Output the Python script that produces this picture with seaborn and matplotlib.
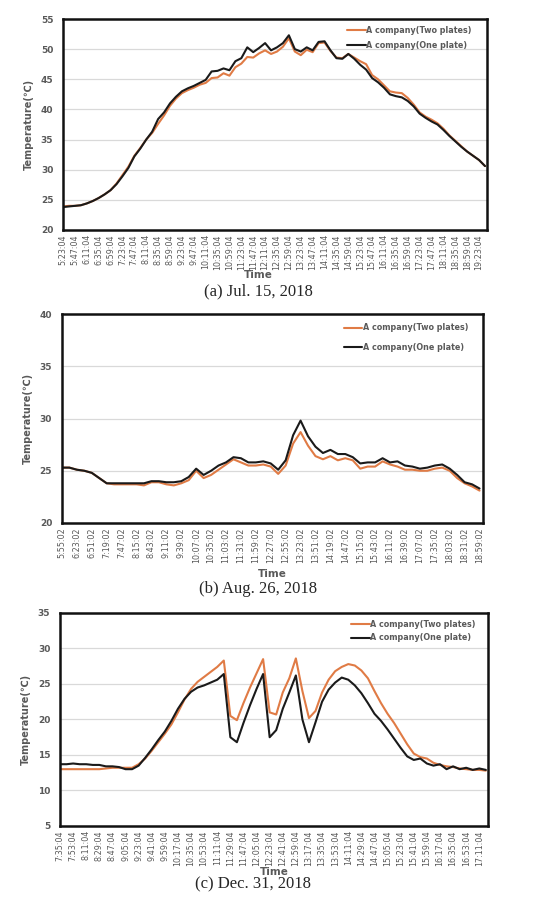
import numpy as np
import pandas as pd
import matplotlib
matplotlib.use("Agg")
import matplotlib.pyplot as plt
import seaborn as sns

# ---- data ----
# (a) Jul. 15, 2018 : one sample every 12 min from 5:23:04
jul_two = [23.9, 24.0, 24.0, 24.1, 24.4, 24.8, 25.3, 25.9, 26.6, 27.7, 29.1, 30.5,
           32.3, 33.6, 35.0, 36.1, 37.6, 39.0, 40.6, 41.8, 42.7, 43.2, 43.6, 44.1,
           44.4, 45.2, 45.3, 46.0, 45.6, 47.0, 47.6, 48.7, 48.6, 49.3, 49.8, 49.2,
           49.6, 50.4, 51.8, 49.6, 49.0, 49.9, 49.5, 51.0, 51.1, 49.7, 48.6, 48.5,
           49.2, 48.6, 48.0, 47.5, 45.7, 45.0, 44.0, 43.0, 42.8, 42.7, 41.9, 40.8,
           39.5, 38.8, 38.3, 37.7, 36.8, 35.7, 34.8, 33.9, 33.0, 32.3, 31.6, 30.6]
jul_one = [23.8, 23.9, 24.0, 24.1, 24.4, 24.8, 25.3, 25.9, 26.6, 27.6, 28.9, 30.3,
           32.2, 33.5, 35.0, 36.3, 38.4, 39.5, 41.0, 42.1, 43.0, 43.5, 43.9, 44.4,
           44.9, 46.3, 46.4, 46.8, 46.5, 48.0, 48.5, 50.3, 49.5, 50.2, 51.0, 49.8,
           50.3, 51.0, 52.3, 50.0, 49.6, 50.3, 49.8, 51.2, 51.3, 49.8, 48.5, 48.4,
           49.2, 48.4, 47.4, 46.6, 45.2, 44.5, 43.6, 42.5, 42.2, 42.0, 41.4, 40.5,
           39.3, 38.6, 38.0, 37.5, 36.6, 35.6, 34.7, 33.8, 33.0, 32.3, 31.6, 30.6]

# (b) Aug. 26, 2018 : one sample every 14 min from 5:55:02
aug_two = [25.3, 25.3, 25.1, 25.0, 24.8, 24.3, 23.8, 23.7, 23.7, 23.7, 23.7, 23.6,
           23.9, 23.9, 23.7, 23.6, 23.8, 24.1, 25.0, 24.3, 24.6, 25.1, 25.6, 26.1,
           25.8, 25.5, 25.5, 25.6, 25.4, 24.7, 25.5, 27.6, 28.7, 27.4, 26.4, 26.1,
           26.4, 26.0, 26.2, 26.0, 25.2, 25.4, 25.4, 25.9, 25.6, 25.4, 25.1, 25.1,
           25.0, 25.0, 25.2, 25.3, 25.0, 24.3, 23.8, 23.5, 23.1]
aug_one = [25.3, 25.3, 25.1, 25.0, 24.8, 24.3, 23.8, 23.8, 23.8, 23.8, 23.8, 23.8,
           24.0, 24.0, 23.9, 23.9, 24.0, 24.4, 25.2, 24.6, 25.0, 25.5, 25.8, 26.3,
           26.2, 25.8, 25.8, 25.9, 25.7, 25.1, 26.0, 28.4, 29.8, 28.3, 27.3, 26.7,
           27.0, 26.6, 26.6, 26.3, 25.7, 25.8, 25.8, 26.2, 25.8, 25.9, 25.5, 25.4,
           25.2, 25.3, 25.5, 25.6, 25.2, 24.6, 23.9, 23.7, 23.3]

# (c) Dec. 31, 2018 : one sample every 9 min from 7:35:04
dec_two = [13.0, 13.0, 13.0, 13.0, 13.0, 13.0, 13.0, 13.1, 13.2, 13.2, 13.2, 13.2,
           13.7, 14.5, 15.6, 16.8, 18.0, 19.3, 21.0, 22.8, 24.3, 25.3, 26.0, 26.7,
           27.4, 28.3, 20.5, 19.9, 22.3, 24.5, 26.5, 28.5, 21.0, 20.7, 23.8, 25.8,
           28.6, 24.0, 20.2, 21.2, 23.8, 25.6, 26.8, 27.4, 27.8, 27.6, 26.9, 25.8,
           24.0, 22.3, 20.8, 19.5, 18.0, 16.5, 15.2, 14.7, 14.5, 13.9, 13.6, 13.4,
           13.3, 13.1, 13.0, 12.9, 12.9, 12.8]
dec_one = [13.7, 13.7, 13.8, 13.7, 13.7, 13.6, 13.6, 13.4, 13.4, 13.3, 13.0, 13.0,
           13.5, 14.6, 15.8, 17.1, 18.3, 19.8, 21.5, 22.9, 23.9, 24.5, 24.8, 25.2,
           25.6, 26.4, 17.5, 16.8, 19.5, 22.0, 24.3, 26.4, 17.5, 18.5, 21.5, 23.8,
           26.2, 20.0, 16.8, 19.6, 22.5, 24.2, 25.2, 25.9, 25.6, 24.8, 23.7, 22.3,
           20.8, 19.8, 18.6, 17.3, 16.0, 14.8, 14.3, 14.5, 13.8, 13.5, 13.7, 13.0,
           13.4, 13.0, 13.2, 12.9, 13.1, 12.9]

series_names = ["A company(Two plates)", "A company(One plate)"]
captions = ["(a) Jul. 15, 2018", "(b) Aug. 26, 2018", "(c) Dec. 31, 2018"]


def time_labels(h, m, s, step, n):
    out = []
    for i in range(n):
        t = h * 60 + m + i * step
        out.append(f"{t // 60}:{t % 60:02d}:{s:02d}")
    return out


panels = [
    dict(two=jul_two, one=jul_one, dt=12, lab=time_labels(5, 23, 4, 24, 36), tstep=24,
         xmax=856, ylim=(20, 55), rect=[0.118, 0.7459, 0.794, 0.2331],
         leg=(0.67, 0.967), lsp=0.75, time_x=258, time_y=275, cap_x=258, cap_y=291),
    dict(two=aug_two, one=aug_one, dt=14, lab=time_labels(5, 55, 2, 28, 29), tstep=28,
         xmax=790, ylim=(20, 40), rect=[0.116, 0.4221, 0.788, 0.2309],
         leg=(0.67, 0.955), lsp=1.35, time_x=272, time_y=574, cap_x=258, cap_y=589),
    dict(two=dec_two, one=dec_one, dt=9, lab=time_labels(7, 35, 4, 18, 33), tstep=18,
         xmax=588, ylim=(5, 35), rect=[0.1124, 0.0873, 0.8015, 0.2354],
         leg=(0.68, 0.967), lsp=0.55, time_x=274, time_y=872, cap_x=253, cap_y=884),
]

sns.set_style("white")
plt.rcParams['font.family'] = ['DejaVu Sans']

W, H = 534, 905
fig = plt.figure(figsize=(W / 100, H / 100), dpi=100)
gray = "#595959"
palette = {series_names[0]: "#E07B45", series_names[1]: "#1a1a1a"}

for p, cap in zip(panels, captions):
    ax = fig.add_axes(p["rect"])
    n = len(p["two"])
    minutes = np.arange(n) * p["dt"]
    df = pd.DataFrame({
        "min": np.concatenate([minutes, minutes]),
        "temp": p["two"] + p["one"],
        "series": [series_names[0]] * n + [series_names[1]] * n,
    })
    sns.lineplot(data=df, x="min", y="temp", hue="series", palette=palette,
                 hue_order=series_names, linewidth=1.5, ax=ax)

    ax.set_xlim(0, p["xmax"])
    ax.set_ylim(*p["ylim"])
    ax.set_yticks(np.arange(p["ylim"][0], p["ylim"][1] + 1, 5))
    ax.yaxis.grid(True, color="#d9d9d9", linewidth=0.9)
    ax.set_axisbelow(True)
    ax.set_xticks(np.arange(len(p["lab"])) * p["tstep"])
    ax.set_xticklabels(p["lab"], rotation=90, fontsize=5.8, color=gray,
                       family=["Liberation Sans Narrow", "DejaVu Sans"])
    ax.tick_params(axis="y", labelsize=6.5, labelcolor=gray, length=0, pad=7)
    ax.tick_params(axis="x", length=0, pad=3)
    for lab in ax.get_yticklabels():
        lab.set_fontweight("bold")
    for sp in ax.spines.values():
        sp.set_color("#111111")
        sp.set_linewidth(1.8)

    ax.set_xlabel("")
    ax.set_ylabel("Temperature(\u2103)", fontsize=7, color=gray, fontweight="bold",
                  labelpad=5)

    leg = ax.legend(loc="upper left", bbox_to_anchor=p["leg"], frameon=False,
                    fontsize=5.8, handlelength=2.3, handletextpad=0.1,
                    borderpad=0, borderaxespad=0, labelspacing=p["lsp"])
    for t in leg.get_texts():
        t.set_color(gray)
        t.set_fontweight("bold")

    fig.text(p["time_x"] / W, 1 - p["time_y"] / H, "Time", ha="center", va="center",
             fontsize=7.5, color=gray, fontweight="bold")
    fig.text(p["cap_x"] / W, 1 - p["cap_y"] / H, cap, ha="center", va="center",
             fontsize=12, family=["Liberation Serif", "DejaVu Serif"])

fig.savefig("out.png", dpi=100)
